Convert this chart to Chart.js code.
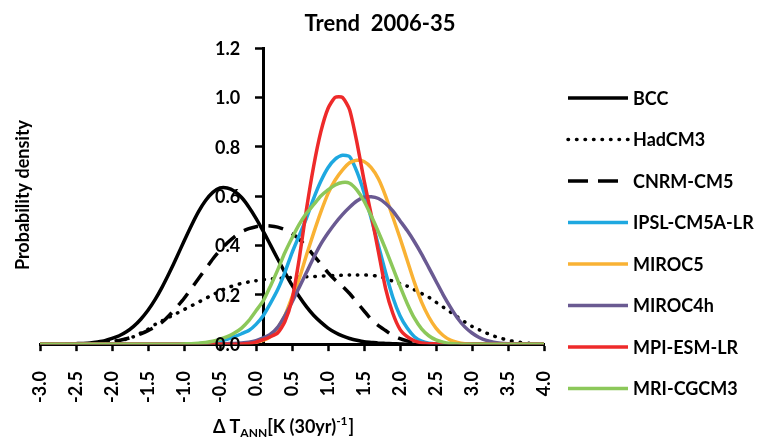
<!DOCTYPE html>
<html>
<head>
<meta charset="utf-8">
<script src="https://cdn.jsdelivr.net/npm/chart.js@4/dist/chart.umd.min.js"></script>
<style>
  html, body { margin: 0; padding: 0; background: #fff; }
  canvas { display: block; }
</style>
</head>
<body>
<canvas id="chart" width="772" height="441"></canvas>
<script>
// temperature trend grid (K per 30 yr)
const trend = [
  -3.0, -2.9, -2.8, -2.7, -2.6, -2.5, -2.4, -2.3, -2.2, -2.1,
  -2.0, -1.9, -1.8, -1.7, -1.6, -1.5, -1.4, -1.3, -1.2, -1.1,
  -1.0, -0.9, -0.8, -0.7, -0.6, -0.5, -0.4, -0.3, -0.2, -0.1,
  0.0, 0.1, 0.2, 0.3, 0.4, 0.5, 0.6, 0.7, 0.8, 0.9,
  1.0, 1.1, 1.2, 1.3, 1.4, 1.5, 1.6, 1.7, 1.8, 1.9,
  2.0, 2.1, 2.2, 2.3, 2.4, 2.5, 2.6, 2.7, 2.8, 2.9,
  3.0, 3.1, 3.2, 3.3, 3.4, 3.5, 3.6, 3.7, 3.8, 3.9,
  4.0
];

const bcc = [
  0, 0, 0, 0, 0.001, 0.002, 0.003, 0.005, 0.009, 0.014,
  0.023, 0.034, 0.05, 0.072, 0.101, 0.137, 0.181, 0.233, 0.291, 0.353,
  0.417, 0.479, 0.536, 0.582, 0.615, 0.633, 0.633, 0.62, 0.594, 0.556,
  0.51, 0.458, 0.402, 0.346, 0.291, 0.239, 0.193, 0.152, 0.117, 0.089,
  0.065, 0.047, 0.033, 0.023, 0.016, 0.01, 0.007, 0.004, 0.003, 0.002,
  0.001, 0, 0, 0, 0, 0, 0, 0, 0, 0,
  0, 0, 0, 0, 0, 0, 0, 0, 0, 0,
  0
];
const hadcm3 = [
  0, 0, 0, 0, 0, 0, 0, 0.002, 0.004, 0.007,
  0.01, 0.015, 0.02, 0.03, 0.045, 0.06, 0.08, 0.095, 0.11, 0.125,
  0.14, 0.155, 0.17, 0.185, 0.2, 0.215, 0.228, 0.238, 0.246, 0.252,
  0.257, 0.261, 0.264, 0.266, 0.268, 0.27, 0.271, 0.273, 0.274, 0.276,
  0.277, 0.278, 0.279, 0.28, 0.28, 0.28, 0.279, 0.275, 0.266, 0.255,
  0.245, 0.235, 0.22, 0.205, 0.19, 0.17, 0.15, 0.13, 0.11, 0.09,
  0.072, 0.058, 0.045, 0.033, 0.024, 0.016, 0.01, 0.006, 0.003, 0.001,
  0
];
const cnrm = [
  0, 0, 0, 0, 0, 0, 0, 0.001, 0.003, 0.006,
  0.01, 0.015, 0.022, 0.03, 0.042, 0.055, 0.07, 0.09, 0.118, 0.15,
  0.185, 0.225, 0.265, 0.305, 0.345, 0.38, 0.41, 0.435, 0.455, 0.468,
  0.476, 0.48, 0.479, 0.474, 0.464, 0.448, 0.425, 0.395, 0.36, 0.325,
  0.29, 0.26, 0.235, 0.205, 0.17, 0.135, 0.1, 0.075, 0.055, 0.035,
  0.022, 0.013, 0.007, 0.003, 0.001, 0, 0, 0, 0, 0,
  0, 0, 0, 0, 0, 0, 0, 0, 0, 0,
  0
];
const ipsl = [
  0, 0, 0, 0, 0, 0, 0, 0, 0, 0,
  0, 0, 0, 0, 0, 0, 0, 0, 0, 0,
  0, 0, 0.002, 0.004, 0.008, 0.013, 0.02, 0.03, 0.042, 0.055,
  0.08, 0.115, 0.165, 0.22, 0.29, 0.37, 0.44, 0.51, 0.59, 0.66,
  0.715, 0.75, 0.765, 0.76, 0.7, 0.615, 0.51, 0.4, 0.29, 0.19,
  0.115, 0.065, 0.03, 0.012, 0.004, 0.001, 0, 0, 0, 0,
  0, 0, 0, 0, 0, 0, 0, 0, 0, 0,
  0
];
const miroc5 = [
  0, 0, 0, 0, 0, 0, 0, 0, 0, 0,
  0, 0, 0, 0, 0, 0, 0, 0, 0, 0,
  0, 0, 0, 0, 0, 0, 0, 0.001, 0.002, 0.004,
  0.008, 0.015, 0.03, 0.065, 0.115, 0.19, 0.265, 0.36, 0.45, 0.535,
  0.61, 0.665, 0.705, 0.735, 0.745, 0.74, 0.715, 0.67, 0.6, 0.515,
  0.43, 0.34, 0.25, 0.17, 0.11, 0.065, 0.035, 0.016, 0.007, 0.002,
  0, 0, 0, 0, 0, 0, 0, 0, 0, 0,
  0
];
const miroc4h = [
  0, 0, 0, 0, 0, 0, 0, 0, 0, 0,
  0, 0, 0, 0, 0, 0, 0, 0, 0, 0,
  0, 0, 0, 0, 0, 0.001, 0.002, 0.003, 0.005, 0.008,
  0.014, 0.025, 0.04, 0.068, 0.115, 0.17, 0.23, 0.29, 0.35, 0.405,
  0.45, 0.49, 0.525, 0.555, 0.58, 0.595, 0.597, 0.59, 0.57, 0.54,
  0.5, 0.46, 0.415, 0.365, 0.31, 0.255, 0.2, 0.15, 0.105, 0.07,
  0.045, 0.027, 0.015, 0.008, 0.004, 0.002, 0.001, 0, 0, 0,
  0
];
const mpi = [
  0, 0, 0, 0, 0, 0, 0, 0, 0, 0,
  0, 0, 0, 0, 0, 0, 0, 0, 0, 0,
  0, 0, 0, 0, 0, 0, 0, 0, 0.001, 0.003,
  0.008, 0.018, 0.03, 0.045, 0.09, 0.18, 0.345, 0.545, 0.72, 0.86,
  0.955, 1.0, 1.0, 0.95, 0.82, 0.665, 0.525, 0.375, 0.225, 0.125,
  0.06, 0.03, 0.013, 0.005, 0.002, 0.001, 0, 0, 0, 0,
  0, 0, 0, 0, 0, 0, 0, 0, 0, 0,
  0
];
const mri = [
  0, 0, 0, 0, 0, 0, 0, 0, 0, 0,
  0, 0, 0, 0, 0, 0, 0, 0, 0, 0,
  0.001, 0.002, 0.004, 0.007, 0.012, 0.02, 0.03, 0.045, 0.065, 0.095,
  0.135, 0.175, 0.235, 0.3, 0.37, 0.43, 0.485, 0.53, 0.565, 0.6,
  0.625, 0.645, 0.655, 0.652, 0.625, 0.58, 0.52, 0.455, 0.385, 0.31,
  0.235, 0.165, 0.105, 0.062, 0.034, 0.017, 0.008, 0.003, 0.001, 0,
  0, 0, 0, 0, 0, 0, 0, 0, 0, 0,
  0
];

const modelNames = ['BCC', 'HadCM3', 'CNRM-CM5', 'IPSL-CM5A-LR', 'MIROC5', 'MIROC4h', 'MPI-ESM-LR', 'MRI-CGCM3'];
const modelValues = [bcc, hadcm3, cnrm, ipsl, miroc5, miroc4h, mpi, mri];
const modelColors = ['#000000', '#000000', '#000000', '#1ea8e0', '#f9b234', '#6a5a92', '#ee2a2a', '#8cc85a'];
const lineStyles = ['solid', 'dotted', 'dashed', 'solid', 'solid', 'solid', 'solid', 'solid'];

const chartTitle = 'Trend  2006-35';
const yTitle = 'Probability density';

const FONT = 'Lato, "Open Sans", sans-serif';
const dashes = {solid: [], dotted: [0.5, 8], dashed: [15, 10]};
const legendDashes = {solid: [], dotted: [0.5, 8], dashed: [20, 10]};

const datasets = modelNames.map((name, i) => ({
  label: name,
  data: trend.map((t, j) => ({x: t, y: modelValues[i][j]})),
  borderColor: modelColors[i],
  borderWidth: 3.5,
  borderDash: dashes[lineStyles[i]],
  borderCapStyle: lineStyles[i] === 'dotted' ? 'round' : 'butt',
  pointRadius: 0,
  tension: 0.2,
  fill: false,
  order: modelNames.length - i
}));

const decorations = {
  id: 'decorations',
  afterDraw (chart) {
    const ctx = chart.ctx;
    const yScale = chart.scales.y;
    const axisX = chart.scales.x.getPixelForValue(0.1);
    ctx.save();
    ctx.fillStyle = '#000';

    // y tick labels, kept clear of the crossing axis
    ctx.font = `bold 18px ${FONT}`;
    ctx.textAlign = 'right';
    ctx.textBaseline = 'middle';
    yScale.ticks.forEach(t => {
      ctx.fillText(t.value.toFixed(1), axisX - 23, yScale.getPixelForValue(t.value) + 1);
    });

    ctx.font = `bold 22px ${FONT}`;
    ctx.textAlign = 'center';
    ctx.textBaseline = 'alphabetic';
    ctx.fillText(chartTitle, 380, 31);

    ctx.save();
    ctx.translate(23, 195);
    ctx.rotate(-Math.PI / 2);
    ctx.font = `bold 18px ${FONT}`;
    ctx.textBaseline = 'middle';
    ctx.fillText(yTitle, 0, 0);
    ctx.restore();

    // x title: ΔT with subscript ANN and superscript -1
    const parts = [
      {t: 'Δ', size: 18, dy: 0, gap: 4},
      {t: 'T', size: 18, dy: 0, gap: 0},
      {t: 'ANN', size: 12, dy: 4, gap: 0},
      {t: '[K (30yr)', size: 18, dy: 0, gap: 0},
      {t: '-1', size: 12, dy: -8, gap: 1},
      {t: ']', size: 18, dy: 0, gap: 0}
    ];
    ctx.textAlign = 'left';
    let px = 213;
    parts.forEach(p => {
      ctx.font = `bold ${p.size}px ${FONT}`;
      ctx.fillText(p.t, px, 433 + p.dy);
      px += ctx.measureText(p.t).width + p.gap;
    });

    chart.data.datasets.forEach((ds, i) => {
      const y = 98 + i * 41.5;
      ctx.strokeStyle = ds.borderColor;
      ctx.lineWidth = ds.borderWidth;
      ctx.lineCap = ds.borderCapStyle;
      ctx.setLineDash(legendDashes[lineStyles[i]]);
      ctx.beginPath();
      ctx.moveTo(568, y);
      ctx.lineTo(628, y);
      ctx.stroke();
      ctx.setLineDash([]);
      ctx.font = `bold 18px ${FONT}`;
      ctx.textBaseline = 'middle';
      ctx.fillText(ds.label, 633, y + 1);
    });
    ctx.restore();
  }
};

const tickFont = {family: FONT, size: 18, weight: 'bold'};

new Chart(document.getElementById('chart'), {
  type: 'line',
  data: {datasets},
  options: {
    responsive: false,
    animation: false,
    events: [],
    layout: {padding: {left: 40, right: 228, top: 48, bottom: 18}},
    plugins: {
      legend: {display: false},
      tooltip: {enabled: false}
    },
    scales: {
      x: {
        type: 'linear',
        min: -3,
        max: 4,
        ticks: {
          stepSize: 0.5,
          autoSkip: false,
          minRotation: 90,
          maxRotation: 90,
          padding: 20,
          color: '#000',
          font: tickFont,
          callback: v => v.toFixed(1)
        },
        grid: {drawOnChartArea: false, tickLength: 7, tickColor: '#000', tickWidth: 2.5},
        border: {color: '#000', width: 3}
      },
      y: {
        min: 0,
        max: 1.2,
        position: {x: 0.1},
        ticks: {display: false, stepSize: 0.2},
        grid: {drawOnChartArea: false, tickLength: 7, tickColor: '#000', tickWidth: 2.5},
        border: {color: '#000', width: 3}
      }
    }
  },
  plugins: [decorations]
});
</script>
</body>
</html>
